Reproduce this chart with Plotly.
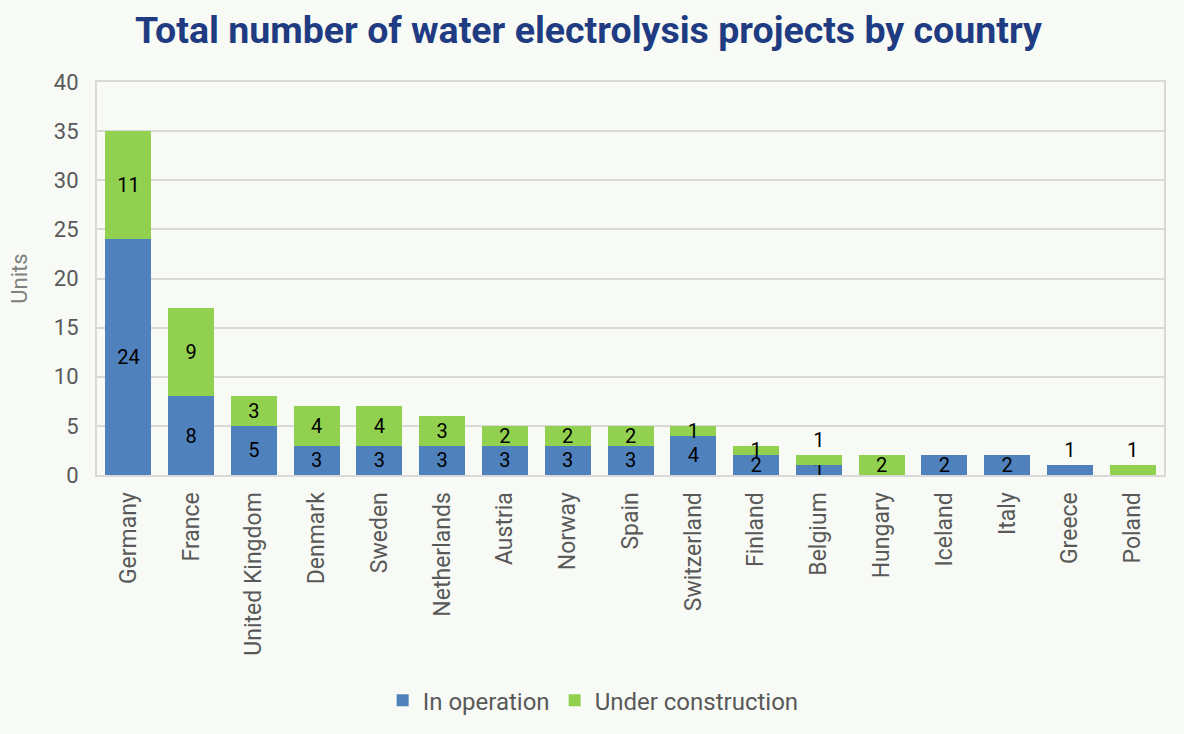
import plotly.graph_objects as go

countries = ["Germany", "France", "United Kingdom", "Denmark", "Sweden", "Netherlands",
             "Austria", "Norway", "Spain", "Switzerland", "Finland", "Belgium",
             "Hungary", "Iceland", "Italy", "Greece", "Poland"]
in_operation = [24, 8, 5, 3, 3, 3, 3, 3, 3, 4, 2, 1, 0, 2, 2, 1, 0]
under_construction = [11, 9, 3, 4, 4, 3, 2, 2, 2, 1, 1, 1, 2, 0, 0, 0, 1]

BLUE = "#4f81bd"
GREEN = "#92d050"
BG = "#f8fbf5"
GRAY = "#d9d9d9"
FONT = "Roboto"
TXT = "#595959"

def labels(vals):
    return [str(v) if v else "" for v in vals]

# label placement: small end-of-stack segments get their label above the bar
op_pos = ["outside" if (o == 1 and u == 0) else "inside" for o, u in zip(in_operation, under_construction)]
uc_pos = ["outside" if (u == 1 and c in ("Belgium", "Poland")) else "inside"
          for u, c in zip(under_construction, countries)]

fig = go.Figure()
fig.add_trace(go.Bar(
    x=countries, y=in_operation, name="In operation",
    marker=dict(color=BLUE, line=dict(width=0)),
    text=labels(in_operation), textposition=op_pos,
    insidetextanchor="middle", textangle=0,
    textfont=dict(color="black", size=20, family=FONT),
    cliponaxis=False,
))
fig.add_trace(go.Bar(
    x=countries, y=under_construction, name="Under construction",
    marker=dict(color=GREEN, line=dict(width=0)),
    text=labels(under_construction), textposition=uc_pos,
    insidetextanchor="middle", textangle=0,
    textfont=dict(color="black", size=20, family=FONT),
    cliponaxis=False,
))

fig.update_layout(
    barmode="stack", bargap=0.267,
    width=1184, height=734,
    paper_bgcolor=BG, plot_bgcolor=BG,
    margin=dict(l=97, r=20, t=82, b=258),
    font=dict(family=FONT, color=TXT, size=22),
    uniformtext=dict(mode="show", minsize=20),
    title=dict(text="<b>Total number of water electrolysis projects by country</b>",
               x=0.497, xanchor="center", y=0.959, yanchor="middle",
               font=dict(family=FONT, size=37.5, color="#1f3b82")),
    legend=dict(orientation="h", x=0.465, xanchor="center", y=-0.57, yanchor="middle",
                font=dict(size=24, color=TXT), itemsizing="constant",
                traceorder="normal", itemwidth=30),
    showlegend=True,
)
fig.update_xaxes(
    tickangle=-90, tickfont=dict(size=23, color=TXT),
    showline=True, linecolor=GRAY, linewidth=2, mirror=True,
    ticks="", showgrid=False, ticklabelstandoff=6, automargin=False,
)
fig.update_yaxes(
    range=[0, 40], dtick=5, tickfont=dict(size=22, color=TXT),
    showgrid=True, gridcolor=GRAY, gridwidth=2,
    showline=True, linecolor=GRAY, linewidth=2, mirror=True,
    zeroline=False, ticks="", ticklabelstandoff=12, automargin=False,
    title=dict(text="Units", font=dict(size=22, color="#808080"), standoff=20),
)

fig.write_html("out.html")
